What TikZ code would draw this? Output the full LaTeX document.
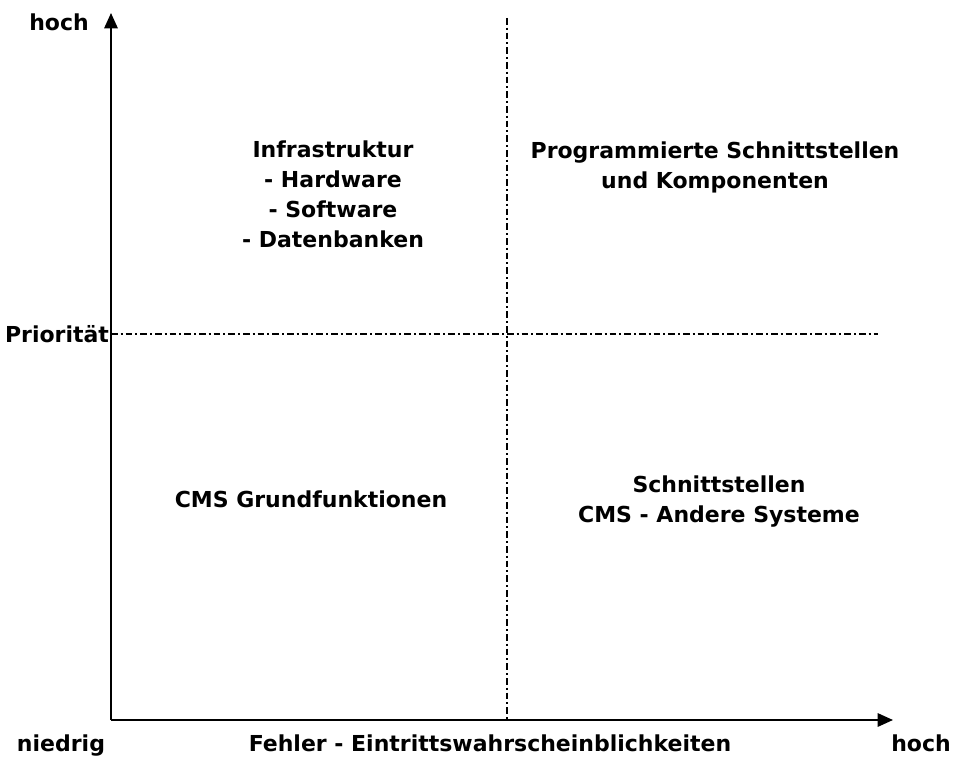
\documentclass[tikz,border=0pt]{standalone}
\usepackage{fontspec}
\setmainfont{DejaVu Sans}
\usetikzlibrary{arrows.meta}

\begin{document}
\begin{tikzpicture}[x=0.75pt, y=-0.75pt,
        axis/.style={line width=1.5pt, -{Triangle[length=11.5pt, width=10pt]}},
        divider/.style={line width=1.3pt, dash pattern=on 5pt off 2.25pt on 1.5pt off 2.25pt},
        lbl/.style={font=\bfseries\fontsize{16.5pt}{22.5pt}\selectfont, inner sep=0pt, anchor=base, align=center}]
        \useasboundingbox (0,0) rectangle (955,756);

        % Corner points of the chart
        \coordinate (origin) at (111,720);
        \coordinate (ytip) at (111,13);
        \coordinate (xtip) at (893,720);
        \coordinate (midtop) at (507,18);
        \coordinate (midbot) at (507,720);
        \coordinate (prioleft) at (111,334);
        \coordinate (prioright) at (878,334);

        % Draw the dividing lines
        \draw[divider] (midtop) -- (midbot);
        \draw[divider] (prioleft) -- (prioright);

        % Draw the axes
        \draw[axis] (origin) -- (ytip);
        \draw[axis] (origin) -- (xtip);

        % Axis labels
        \node[lbl] (yhigh) at (59,31) {hoch};
        \node[lbl] (prio) at (57,342) {Priorität};
        \node[lbl] (low) at (61,751) {niedrig};
        \node[lbl] (xlabel) at (490,751) {Fehler - Eintrittswahrscheinblichkeiten};
        \node[lbl] (xhigh) at (921,751) {hoch};

        % Quadrant labels (base = last line)
        \node[lbl] (infra) at (333,247) {Infrastruktur\\- Hardware\\- Software\\- Datenbanken};
        \node[lbl] (prog) at (715,188) {Programmierte Schnittstellen\\und Komponenten};
        \node[lbl] (cms) at (311,507) {CMS Grundfunktionen};
        \node[lbl] (iface) at (719,522) {Schnittstellen\\CMS - Andere Systeme};
\end{tikzpicture}
\end{document}
